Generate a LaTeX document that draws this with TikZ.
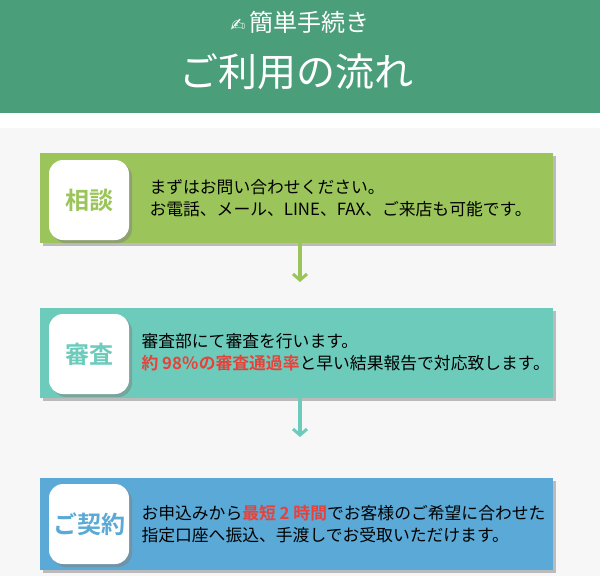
\documentclass[tikz,border=0pt]{standalone}
\usepackage{fontspec}
\setmainfont{Noto Sans CJK JP}
\newfontfamily\cjkb{Noto Sans CJK JP Bold}
\newfontfamily\dv{DejaVu Sans}
\usetikzlibrary{shadows,arrows.meta}
\definecolor{hdr}{HTML}{4A9E7A}
\definecolor{bg}{HTML}{F7F7F7}
\definecolor{g1}{HTML}{9BC55A}
\definecolor{g2}{HTML}{6CCBBB}
\definecolor{g3}{HTML}{5AA9D6}
\definecolor{red1}{HTML}{E8413A}
\begin{document}
\begin{tikzpicture}[x=1pt,y=-1pt,
 stepbox/.style={fill=#1,drop shadow={shadow xshift=3pt,shadow yshift=-3pt,opacity=.5}},
 icon/.style={fill=white,rounded corners=14pt,drop shadow={shadow xshift=3pt,shadow yshift=-3pt,opacity=.5},minimum width=80pt,minimum height=80pt,inner sep=0pt,font=\cjkb\fontsize{24}{24}\selectfont},
 desc/.style={anchor=west,align=left,font=\fontsize{16.8}{22}\selectfont},
 arr/.style={draw=#1,line width=4pt,-{Straight Barb[length=6pt,width=14pt,line width=3pt]}}]
\useasboundingbox (0,0) rectangle (600,576);
\fill[hdr] (0,0) rectangle (600,113);
\fill[white] (0,113) rectangle (600,128);
\fill[bg] (0,128) rectangle (600,576);
\node[white,font=\fontsize{24}{24}\selectfont] (t1) at (300,22) {{\dv\fontsize{18}{18}\selectfont ✍}\,簡単手続き};
\node[white,font=\fontsize{39}{39}\selectfont] (t2) at (296,72) {ご利用の流れ};
% boxes
\path[stepbox=g1] (40,153) rectangle (553,243);
\node[icon,text=g1] (i1) at (89,200) {相談};
\node[desc] (d1) at (146,198) {まずはお問い合わせください。\\お電話、メール、LINE、FAX、ご来店も可能です。};
\coordinate (a1s) at (300,243); \coordinate (a1e) at (300,282);
\draw[arr=g1] (a1s) -- (a1e);
\path[stepbox=g2] (40,308) rectangle (553,398);
\node[icon,text=g2] (i2) at (89,354) {審査};
\node[desc] (d2) at (138,352) {審査部にて審査を行います。\\{\cjkb\color{red1}約 98％の審査通過率}と早い結果報告で対応致します。};
\coordinate (a2s) at (300,398); \coordinate (a2e) at (300,437);
\draw[arr=g2] (a2s) -- (a2e);
\path[stepbox=g3] (40,478) rectangle (553,570);
\node[icon,text=g3] (i3) at (89,524) {ご契約};
\node[desc] (d3) at (138,524) {お申込みから{\cjkb\color{red1}最短 2 時間}でお客様のご希望に合わせた\\指定口座へ振込、手渡しでお受取いただけます。};
\end{tikzpicture}
\end{document}
